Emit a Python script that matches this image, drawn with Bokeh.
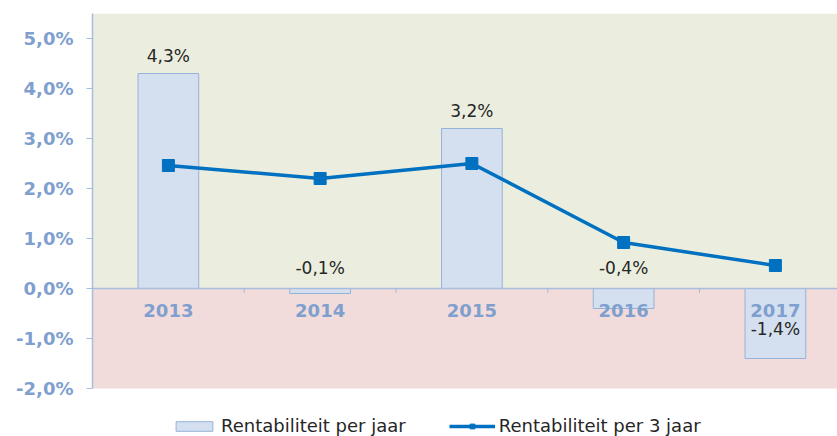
from bokeh.plotting import figure
from bokeh.models import (Range1d, BoxAnnotation, FixedTicker, ColumnDataSource,
                          Legend, LegendItem, Span)
from bokeh.core.properties import value
from bokeh.embed import file_html
from bokeh.resources import INLINE

years = [2013, 2014, 2015, 2016, 2017]
year_labels = ["2013", "2014", "2015", "2016", "2017"]
per_jaar = [4.3, -0.1, 3.2, -0.4, -1.4]
per_3_jaar = [2.46, 2.2, 2.5, 0.92, 0.46]
bar_labels = ["4,3%", "-0,1%", "3,2%", "-0,4%", "-1,4%"]
y_ticks = [-2, -1, 0, 1, 2, 3, 4, 5]
y_tick_labels = ["-2,0%", "-1,0%", "0,0%", "1,0%", "2,0%", "3,0%", "4,0%", "5,0%"]
Y_MIN, Y_MAX = -2, 5.5

AXIS_COL = "#A7BDDD"
LABEL_COL = "#7F9FCF"
FONT = "DejaVu Sans"

PX_PER_UNIT = 50
FRAME_H = 423
p = figure(frame_width=745, frame_height=FRAME_H, output_backend="svg", toolbar_location=None,
           x_range=Range1d(2012.5, 2012.5 + 745 / 151.75),
           y_range=Range1d(Y_MAX - FRAME_H / PX_PER_UNIT, Y_MAX),
           x_axis_location=None,
           min_border_left=92, min_border_right=0, min_border_top=13,
           min_border_bottom=0)
p.xgrid.visible = False
p.ygrid.visible = False
p.outline_line_color = None
p.background_fill_color = "white"
p.border_fill_color = "white"

p.add_layout(BoxAnnotation(bottom=0, top=Y_MAX, fill_color="#EBEEDF", fill_alpha=1,
                           line_color=None, level="underlay"))
p.add_layout(BoxAnnotation(bottom=Y_MIN, top=0, fill_color="#F2DCDB", fill_alpha=1,
                           line_color=None, level="underlay"))

yax = p.yaxis[0]
yax.bounds = (Y_MIN, Y_MAX)
yax.ticker = FixedTicker(ticks=y_ticks)
yax.major_label_overrides = {t: l for t, l in zip(y_ticks, y_tick_labels)}
yax.axis_line_color = AXIS_COL
yax.axis_line_width = 1.5
yax.major_tick_line_color = AXIS_COL
yax.major_tick_in = 0
yax.major_tick_out = 6
yax.minor_tick_line_color = None
yax.major_label_text_color = LABEL_COL
yax.major_label_text_font = FONT
yax.major_label_text_font_style = "bold"
yax.major_label_text_font_size = "18px"
yax.major_label_standoff = 13

# bars
src = ColumnDataSource(dict(x=years, top=per_jaar, lab=bar_labels, yl=year_labels))
bars = p.vbar(x="x", top="top", bottom=0, width=0.4, source=src,
              fill_color="#D4DFEF", line_color="#95B3D7", line_width=1)

# zero axis line + tick marks between categories
p.add_layout(Span(location=0, dimension="width", line_color=AXIS_COL, line_width=1.5))
bounds = [y + 0.5 for y in years]
p.segment(x0=bounds, x1=bounds, y0=[0] * len(bounds), y1=[-0.09] * len(bounds),
          line_color=AXIS_COL, line_width=1)

# year labels
p.text(x="x", y=0, text="yl", source=src, text_align="center", text_baseline="middle",
       y_offset=22, text_color=LABEL_COL, text_font=value(FONT), text_font_style="bold",
       text_font_size="18px")

# data labels
lab_y = [v if v > 0 else 0 for v in per_jaar]
lab_off = [-18 if v > 0 else (-21 if v > -1 else 40) for v in per_jaar]
p.text(x=years, y=lab_y, text=bar_labels, y_offset=lab_off, text_align="center",
       text_baseline="middle", text_color="#262626", text_font=value(FONT),
       text_font_size="17px")

# line
ln = p.line(years, per_3_jaar, line_color="#0070C0", line_width=3.5)
mk = p.scatter(years, per_3_jaar, marker="square", size=12, fill_color="#0070C0",
               line_color="#0070C0")

legend = Legend(items=[LegendItem(label="Rentabiliteit per jaar", renderers=[bars]),
                       LegendItem(label="Rentabiliteit per 3 jaar", renderers=[ln, mk])],
                orientation="horizontal", location=(79, 0),
                label_text_font=FONT, label_text_font_size="18px",
                label_text_color="#262626", border_line_color=None,
                background_fill_alpha=0, glyph_width=46, glyph_height=12,
                label_height=18, spacing=43, label_standoff=4, padding=0, margin=0)
p.add_layout(legend, "center")

open("out.html", "w").write(file_html(p, INLINE))
